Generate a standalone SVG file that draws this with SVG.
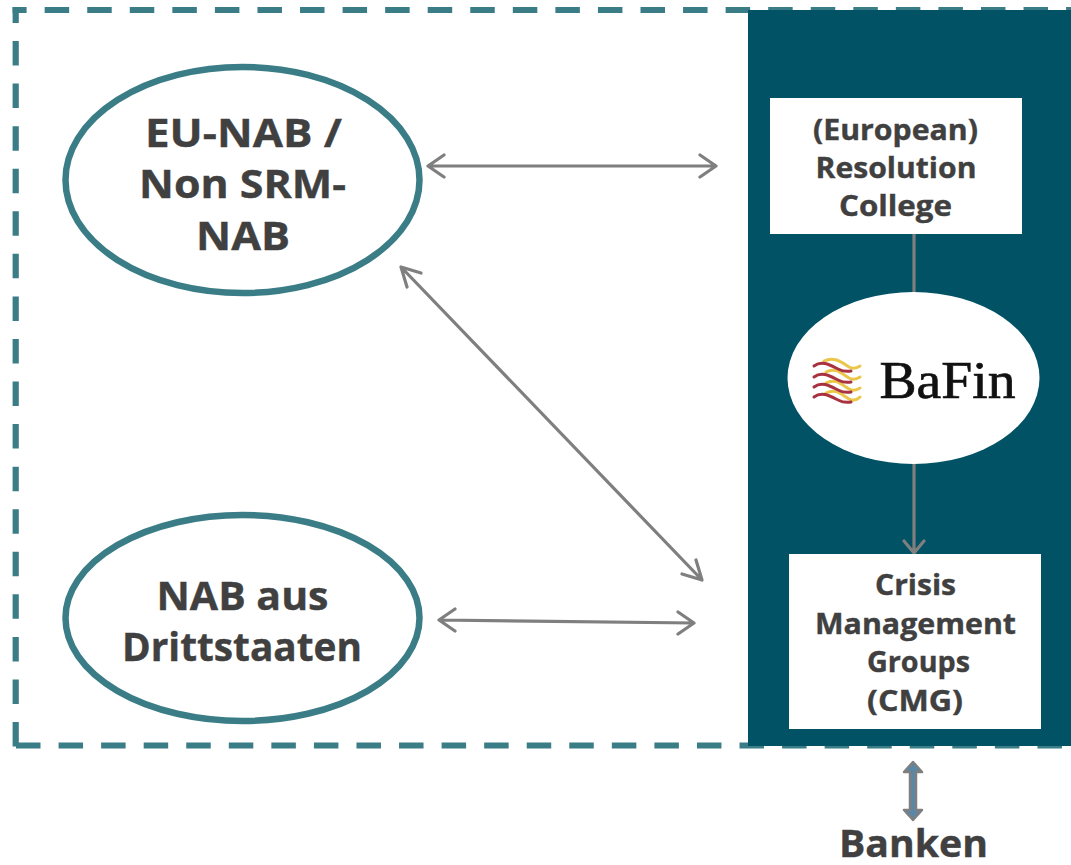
<svg xmlns="http://www.w3.org/2000/svg" width="1071" height="865" viewBox="0 0 1071 865">
<style>
.t{font-family:"Open Sans","Noto Sans","Liberation Sans",sans-serif;font-weight:700;fill:#404040;stroke:#404040;stroke-width:.4;text-anchor:middle}
.big{font-size:40px}
.mid{font-size:28.5px}
.ell{fill:#fff;stroke:#3b7d86;stroke-width:6.5}
.box{fill:#fff}
.c{fill:none;stroke:#7f7f7f;stroke-width:3.2;stroke-linecap:round;stroke-linejoin:round}
.dash{fill:none;stroke:#3b7d86;stroke-width:6.2;stroke-dasharray:24.5 18.06}
</style>
<rect width="1071" height="865" fill="#fff"/>
<g id="frame">
<path class="dash" stroke-dashoffset="10.5" d="M12.6 10H1071"/>
<path class="dash" stroke-dashoffset="8.5" d="M15.7 7V748"/>
<path class="dash" d="M16 745.5H1071"/>
<rect x="748" y="10" width="323" height="736" fill="#005264"/>
</g>
<g id="connectors">
<path class="c" d="M428 166H716M444 155L428 166L444 177M700 155L716 166L700 177"/>
<path class="c" d="M401 267L702 580M407 287L401 267L421 273M682 574L702 580L696 560"/>
<path class="c" d="M439 620L694 623M455 609L439 620L455 631M678 612L694 623L678 634"/>
<path class="c" d="M914 233V295"/>
<path class="c" d="M914 462V553M904 541L914 553L924 541"/>
</g>
<g id="eu-nab">
<ellipse class="ell" cx="242.5" cy="180" rx="177" ry="113"/>
<text class="t big" x="243.5" y="147" textLength="197" lengthAdjust="spacingAndGlyphs">EU-NAB /</text>
<text class="t big" x="242.5" y="198" textLength="207" lengthAdjust="spacingAndGlyphs">Non SRM-</text>
<text class="t big" x="243" y="250" textLength="94" lengthAdjust="spacingAndGlyphs">NAB</text>
</g>
<g id="nab-drittstaaten">
<ellipse class="ell" cx="242.5" cy="618" rx="177" ry="103"/>
<text class="t big" x="242.5" y="610" textLength="172" lengthAdjust="spacingAndGlyphs">NAB aus</text>
<text class="t big" x="242" y="661" textLength="240" lengthAdjust="spacingAndGlyphs">Drittstaaten</text>
</g>
<g id="resolution-college">
<rect class="box" x="770" y="98" width="252" height="136"/>
<text class="t mid" x="895.5" y="140" textLength="165" lengthAdjust="spacingAndGlyphs">(European)</text>
<text class="t mid" x="896" y="178" textLength="161" lengthAdjust="spacingAndGlyphs">Resolution</text>
<text class="t mid" x="895.5" y="216" textLength="113" lengthAdjust="spacingAndGlyphs">College</text>
</g>
<g id="bafin">
<ellipse cx="913.5" cy="378" rx="126" ry="86" fill="#fff"/>
<g fill="none" stroke-width="3" stroke-linecap="round">
<g stroke="#eac64a">
<path d="M824 361C834 356 841 362 849 367C853 369 857 368 860 366"/>
<path d="M826 372C835 367 841 373 849 378C853 380 857 379 860 377"/>
<path d="M826 383C835 378 841 384 849 389C853 391 857 390 860 388"/>
<path d="M826 393C835 388 841 394 849 399C853 401 857 400 860 397"/>
</g>
<g stroke="#a8323f">
<path d="M814 366C822 360 830 365 838 369C842 371 846 372 851 371"/>
<path d="M814 377C822 371 830 376 838 380C842 382 846 383 851 382"/>
<path d="M814 387C822 381 830 386 838 390C842 392 846 393 851 392"/>
<path d="M814 397C822 391 830 396 838 400C842 402 846 403 851 402"/>
</g>
</g>
<text x="947.5" y="398" font-family="'Liberation Serif',serif" font-size="53" fill="#111" stroke="#111" stroke-width="0.7" text-anchor="middle" textLength="136" lengthAdjust="spacingAndGlyphs">BaFin</text>
</g>
<g id="cmg">
<rect class="box" x="789" y="554" width="252" height="175"/>
<text class="t mid" x="915.5" y="595" textLength="81" lengthAdjust="spacingAndGlyphs">Crisis</text>
<text class="t mid" x="915.5" y="634" textLength="201" lengthAdjust="spacingAndGlyphs">Management</text>
<text class="t mid" x="918.5" y="672" textLength="103" lengthAdjust="spacingAndGlyphs">Groups</text>
<text class="t mid" x="915" y="711" textLength="96" lengthAdjust="spacingAndGlyphs">(CMG)</text>
</g>
<g id="banken">
<path d="M913 762L922 772H916V810H922L913 820L904 810H910V772H904Z" fill="#5b87a6" stroke="#7f7f7f" stroke-width="2.5" stroke-linejoin="round"/>
<text class="t" font-size="38" x="913.5" y="857" textLength="149" lengthAdjust="spacingAndGlyphs">Banken</text>
</g>
</svg>
